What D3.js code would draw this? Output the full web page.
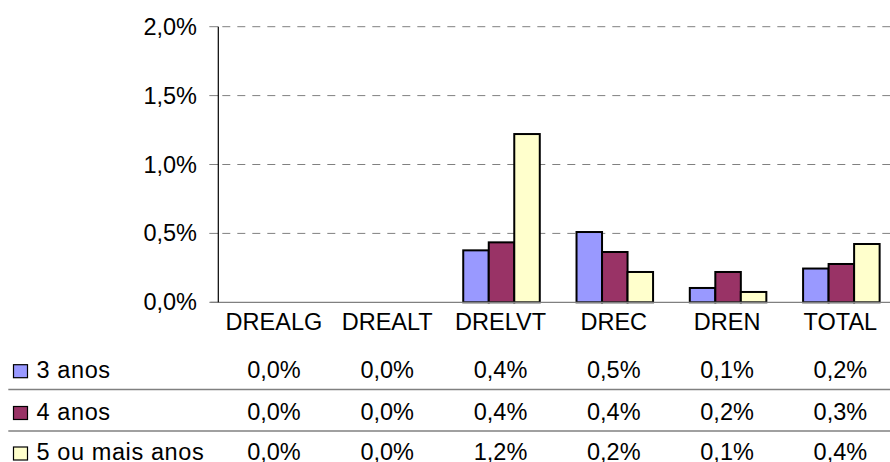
<!DOCTYPE html>
<html>
<head>
<meta charset="utf-8">
<script src="https://cdn.jsdelivr.net/npm/d3@7"></script>
<style>
  html, body { margin: 0; padding: 0; background: #fff; }
  svg { display: block; font-family: "Liberation Sans", Arial, sans-serif; }
</style>
</head>
<body>
<svg id="chart" width="890" height="462"></svg>
<script>
// Regions and series
const categories = ["DREALG", "DREALT", "DRELVT", "DREC", "DREN", "TOTAL"];
const seriesNames = ["3 anos", "4 anos", "5 ou mais anos"];
const seriesColors = ["#9999FF", "#993366", "#FFFFCC"];

// Percentages per region (in %)
const anos3 = [0.0, 0.0, 0.377, 0.51, 0.104, 0.245];
const anos4 = [0.0, 0.0, 0.435, 0.365, 0.22, 0.278];
const anos5 = [0.0, 0.0, 1.221, 0.22, 0.075, 0.423];
const seriesValues = [anos3, anos4, anos5];

const yTicks = [0, 0.5, 1.0, 1.5, 2.0];

const fmt = v => v.toFixed(1).replace(".", ",") + "%";

const svg = d3.select("#chart");
const plotLeft = 218.3, plotRight = 898, plotTop = 26.7, plotBottom = 302.3;

const x0 = d3.scaleBand().domain(categories).range([plotLeft, plotRight]).padding(0);
const x1 = d3.scaleBand().domain(seriesNames).range([0, x0.bandwidth()])
  .paddingInner(0).paddingOuter(0.72);
const y = d3.scaleLinear().domain([0, 2.0]).range([plotBottom, plotTop]);

// Gridlines (dashed) and left ticks
const grid = svg.append("g");
grid.selectAll("line.grid").data(yTicks.filter(t => t > 0)).join("line")
  .attr("x1", plotLeft).attr("x2", plotRight)
  .attr("y1", d => y(d)).attr("y2", d => y(d))
  .attr("stroke", "#808080").attr("stroke-width", 1)
  .attr("stroke-dasharray", "8,7")
  .attr("stroke-dashoffset", -4);
grid.selectAll("line.tick").data(yTicks).join("line")
  .attr("x1", plotLeft - 9).attr("x2", plotLeft)
  .attr("y1", d => y(d)).attr("y2", d => y(d))
  .attr("stroke", "#808080").attr("stroke-width", 1);

// Y tick labels
svg.append("g").selectAll("text").data(yTicks).join("text")
  .attr("x", 197).attr("y", d => y(d))
  .attr("text-anchor", "end").attr("dominant-baseline", "central")
  .attr("font-size", "23.5px").attr("fill", "#000")
  .text(fmt);

// Bars
const groups = svg.append("g").selectAll("g").data(categories).join("g")
  .attr("transform", d => `translate(${x0(d)},0)`);
groups.selectAll("rect")
  .data((c, i) => seriesNames.map((s, k) => ({ s, v: seriesValues[k][i], color: seriesColors[k] })))
  .join("rect")
  .filter(d => d.v > 0)
  .attr("x", d => x1(d.s))
  .attr("width", x1.bandwidth())
  .attr("y", d => y(d.v))
  .attr("height", d => y(0) - y(d.v))
  .attr("fill", d => d.color)
  .attr("stroke", "#000").attr("stroke-width", 2);

// Baseline and vertical axis
svg.append("line")
  .attr("x1", plotLeft - 8).attr("x2", plotRight)
  .attr("y1", y(0)).attr("y2", y(0))
  .attr("stroke", "#808080").attr("stroke-width", 1.2);
svg.append("line")
  .attr("x1", plotLeft).attr("x2", plotLeft)
  .attr("y1", plotTop).attr("y2", plotBottom)
  .attr("stroke", "#000").attr("stroke-width", 1.2);

// Category labels
svg.append("g").selectAll("text").data(categories).join("text")
  .attr("x", d => x0(d) + x0.bandwidth() / 2 - 1)
  .attr("y", 330)
  .attr("text-anchor", "middle")
  .attr("font-size", "23.5px").attr("fill", "#000")
  .text(d => d);

// Data table
const rowBaselines = [377.7, 419.5, 460];
const table = svg.append("g");
table.selectAll("line").data([389.5, 431]).join("line")
  .attr("x1", 8.3).attr("x2", plotRight)
  .attr("y1", d => d).attr("y2", d => d)
  .attr("stroke", "#808080").attr("stroke-width", 1.3);

seriesNames.forEach((s, k) => {
  const row = table.append("g");
  row.append("rect")
    .attr("x", 13.5).attr("y", rowBaselines[k] - 13)
    .attr("width", 14).attr("height", 13)
    .attr("fill", seriesColors[k]).attr("stroke", "#000").attr("stroke-width", 1.2);
  row.append("text")
    .attr("x", 36.5).attr("y", rowBaselines[k])
    .attr("font-size", "23.5px").attr("letter-spacing", "0.6px").attr("fill", "#000")
    .text(s);
  row.selectAll("text.val").data(seriesValues[k]).join("text")
    .attr("class", "val")
    .attr("x", (d, i) => x0(categories[i]) + x0.bandwidth() / 2 - 1)
    .attr("y", rowBaselines[k])
    .attr("text-anchor", "middle")
    .attr("font-size", "23.5px").attr("fill", "#000")
    .text(fmt);
});
</script>
</body>
</html>
